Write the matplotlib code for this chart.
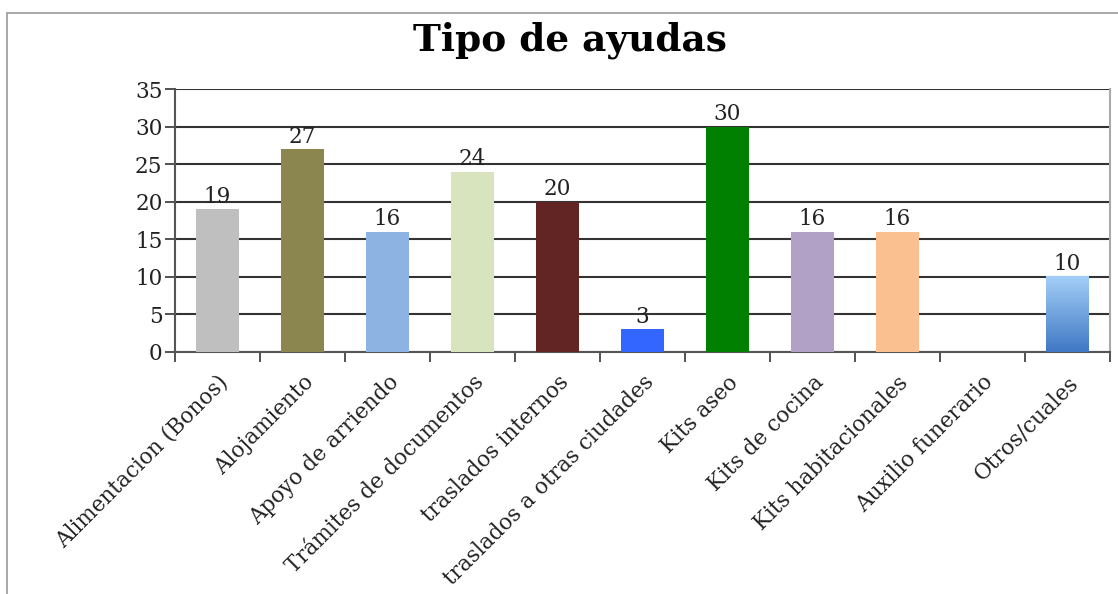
import numpy as np
import matplotlib.pyplot as plt
from matplotlib.patches import Rectangle
from matplotlib.colors import LinearSegmentedColormap

# --- data ---
categorias = ['Alimentacion (Bonos)', 'Alojamiento', 'Apoyo de arriendo',
              'Trámites de documentos', 'traslados internos',
              'traslados a otras ciudades', 'Kits aseo', 'Kits de cocina',
              'Kits habitacionales', 'Auxilio funerario', 'Otros/cuales']
valores = [19, 27, 16, 24, 20, 3, 30, 16, 16, 0, 10]
etiquetas = ['19', '27', '16', '24', '20', '3', '30', '16', '16', '', '10']
colores = ['#BFBFBF', '#8B8550', '#8DB3E2', '#D7E4BD', '#632523',
           '#3366FF', '#008000', '#B2A1C7', '#FAC090', '#FFFFFF', '#7FAFE3']
yticks = [0, 5, 10, 15, 20, 25, 30, 35]

W, H = 1118, 594
fig = plt.figure(figsize=(W / 100, H / 100), dpi=100)
plt.rcParams['font.family'] = ['DejaVu Serif']

# outer chart frame
fig.patches.append(Rectangle((7 / W, -0.1), 1.2, 1.1 - 13 / H, transform=fig.transFigure,
                             fill=False, edgecolor='#9A9A9A', linewidth=1.2))

ax = fig.add_axes([175 / W, 1 - 352 / H, (1110 - 175) / W, (352 - 89) / H])
x = np.arange(len(categorias))
bars = ax.bar(x, valores, width=0.5, color=colores, zorder=3)

# gradient on last bar
grad = LinearSegmentedColormap.from_list('g', ['#3F78C4', '#A3CFF7'])
b = bars[-1]
ax.imshow(np.linspace(0, 1, 100).reshape(-1, 1), cmap=grad, origin='lower',
          extent=[b.get_x(), b.get_x() + b.get_width(), 0, b.get_height()],
          aspect='auto', zorder=4)

for xi, v, t in zip(x, valores, etiquetas):
    if t:
        ax.text(xi, v + 0.2, t, ha='center', va='bottom', fontsize=15.5, color='#222222')

ax.set_xlim(-0.5, len(categorias) - 0.5)
ax.set_ylim(0, 35)
ax.set_yticks(yticks)
ax.set_yticklabels([str(v) for v in yticks], fontsize=15.5, color='#222222')
ax.yaxis.grid(True, color='#333333', linewidth=1.5, zorder=0)
ax.set_axisbelow(True)

ax.set_xticks(x)
ax.set_xticklabels(categorias, rotation=45, ha='right', rotation_mode='anchor',
                   fontsize=15.5, color='#222222')
ax.tick_params(axis='x', length=0, pad=14)
ax.set_xticks(np.arange(-0.5, len(categorias)), minor=True)
ax.tick_params(axis='x', which='minor', length=7, width=1.3, color='#444444', direction='out')
ax.tick_params(axis='y', length=7, width=1.3, color='#444444', direction='out', pad=2)

for s in ['left', 'bottom']:
    ax.spines[s].set_color('#555555')
    ax.spines[s].set_linewidth(1.5)
ax.spines['right'].set_color('#AAAAAA')
ax.spines['right'].set_linewidth(1.5)
ax.spines['top'].set_visible(False)

fig.text(570 / W, 1 - 40 / H, 'Tipo de ayudas', ha='center', va='center',
         fontsize=27, fontweight='bold', color='black')

fig.savefig('out.png', dpi=100)
